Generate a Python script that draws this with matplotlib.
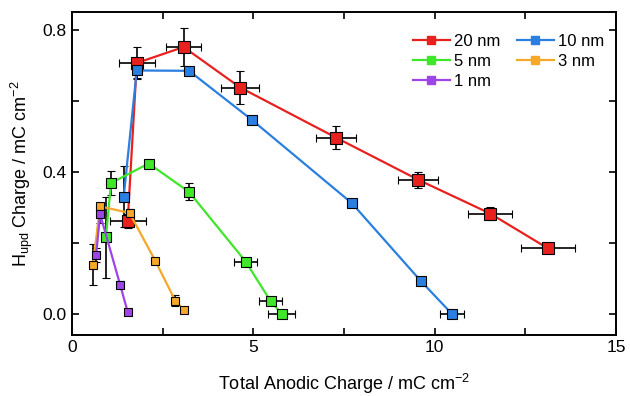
import numpy as np
import matplotlib
matplotlib.use('Agg')
import matplotlib.pyplot as plt
from matplotlib.ticker import MultipleLocator, FormatStrFormatter
from matplotlib.lines import Line2D

plt.rcParams['font.family'] = ['Liberation Sans', 'DejaVu Sans']

# 20 nm
x20 = [1.54, 1.79, 3.08, 4.64, 7.28, 9.55, 11.53, 13.12]
y20 = [0.26, 0.706, 0.751, 0.637, 0.496, 0.377, 0.282, 0.184]
xe20 = [0.50, 0.49, 0.49, 0.52, 0.54, 0.55, 0.60, 0.74]
ye20 = [0.02, 0.045, 0.054, 0.046, 0.033, 0.023, 0.019, 0.012]

# 10 nm
x10 = [1.43, 1.79, 3.23, 4.96, 7.72, 9.61, 10.47]
y10 = [0.33, 0.685, 0.684, 0.546, 0.311, 0.093, 0.0]
xe10 = [0.05, 0.08, 0.10, 0.06, 0.06, 0.06, 0.33]
ye10 = [0.085, 0.02, 0.01, 0.008, 0.008, 0.008, 0.005]

# 5 nm
x5 = [0.94, 1.08, 2.12, 3.23, 4.79, 5.48, 5.78]
y5 = [0.215, 0.368, 0.423, 0.343, 0.147, 0.035, 0.0]
xe5 = [0.05, 0.07, 0.09, 0.08, 0.32, 0.31, 0.37]
ye5 = [0.114, 0.035, 0.01, 0.024, 0.008, 0.008, 0.005]

# 3 nm
x3 = [0.58, 0.78, 1.59, 2.30, 2.85, 3.08]
y3 = [0.138, 0.302, 0.284, 0.149, 0.037, 0.011]
xe3 = [0.05, 0.06, 0.06, 0.06, 0.08, 0.08]
ye3 = [0.058, 0.01, 0.012, 0.008, 0.015, 0.008]

# 1 nm
x1 = [0.67, 0.78, 1.33, 1.54]
y1 = [0.166, 0.28, 0.082, 0.005]
xe1 = [0.05, 0.05, 0.05, 0.05]
ye1 = [0.02, 0.025, 0.01, 0.008]

series = [
    ('20 nm', x20, y20, xe20, ye20, '#e8211f', 8),
    ('10 nm', x10, y10, xe10, ye10, '#2a7fe0', 6.5),
    ('5 nm', x5, y5, xe5, ye5, '#3fe62a', 6.5),
    ('3 nm', x3, y3, xe3, ye3, '#f5a82a', 6),
    ('1 nm', x1, y1, xe1, ye1, '#9e45ea', 6),
]

fig = plt.figure(figsize=(6.3, 3.96), dpi=100)
ax = fig.add_axes([0.114, 0.154, 0.864, 0.816])

for name, x, y, xe, ye, c, ms in series:
    ax.errorbar(x, y, xerr=xe, yerr=ye, fmt='-s', color=c, lw=1.6,
                ms=ms, mec='black', mew=0.8, ecolor='black',
                elinewidth=1.2, capsize=3, capthick=1.2, label=name)

ax.set_xlim(0, 15)
ax.set_ylim(-0.06, 0.85)
ax.xaxis.set_major_locator(MultipleLocator(5))
ax.xaxis.set_minor_locator(MultipleLocator(2.5))
ax.yaxis.set_major_locator(MultipleLocator(0.4))
ax.yaxis.set_minor_locator(MultipleLocator(0.2))
ax.yaxis.set_major_formatter(FormatStrFormatter('%.1f'))
ax.tick_params(which='both', direction='in', top=True, right=True,
               length=5, width=1.2, labelsize=12.5)
for s in ax.spines.values():
    s.set_linewidth(1.4)

ax.set_xlabel('Total Anodic Charge / mC cm$^{\\mathregular{-2}}$', fontsize=13, labelpad=12)
ax.set_ylabel('H$_{\\mathregular{upd}}$ Charge / mC cm$^{\\mathregular{-2}}$', fontsize=13, labelpad=6)

# legend filled column-wise: 20, 5, 1 | 10, 3
order = ['20 nm', '5 nm', '1 nm', '10 nm', '3 nm']
colors = {s[0]: s[5] for s in series}
leg_h = [Line2D([], [], color=colors[n], marker='s', ms=6, lw=1.6) for n in order]
ax.legend(leg_h, order, loc='upper right', ncol=2, frameon=False, fontsize=12,
          handlelength=2.2, handletextpad=0.25, columnspacing=1.0,
          labelspacing=0.3, borderaxespad=0.0, bbox_to_anchor=(0.99, 0.952))

fig.savefig('out.png', dpi=100)
